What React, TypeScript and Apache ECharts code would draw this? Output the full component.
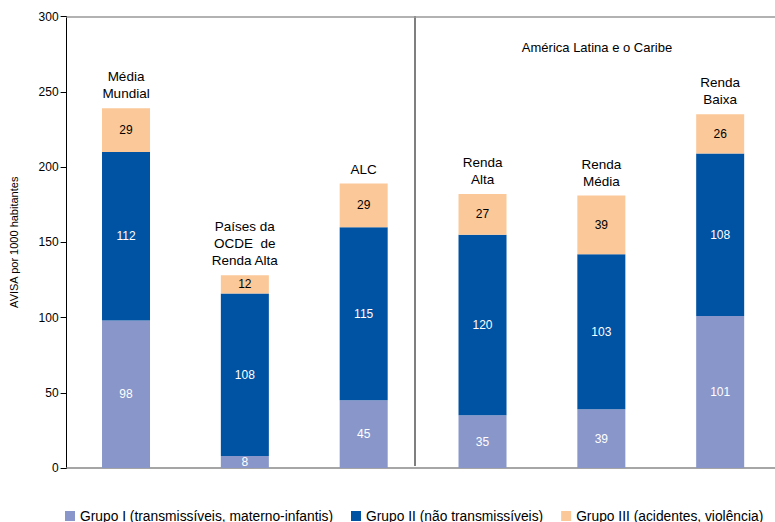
import React, { useEffect, useRef } from "react";
import * as echarts from "echarts";

const categories = ["Média\nMundial", "Países da\nOCDE  de\nRenda Alta", "ALC", "Renda\nAlta", "Renda\nMédia", "Renda\nBaixa"];
const grupoI = [98, 8, 45, 35, 39, 101];
const grupoII = [112, 108, 115, 120, 103, 108];
const grupoIII = [29, 12, 29, 27, 39, 26];
const seriesNames = [
  "Grupo I (transmissíveis, materno-infantis)",
  "Grupo II (não transmissíveis)",
  "Grupo III (acidentes, violência)",
];
const yTicks = [0, 50, 100, 150, 200, 250, 300];
const regionTitle = "América Latina e o Caribe";
const yAxisTitle = "AVISA por 1000 habitantes";

const FONT = "Liberation Sans, Arial, sans-serif";

export default function App() {
  const ref = useRef<HTMLDivElement>(null);
  useEffect(() => {
    if (!ref.current) return;
    const chart = echarts.init(ref.current, undefined, { renderer: "svg" });
    const barWidth = 48;
    const mk = (name: string, data: number[], color: string, labelColor: string) => ({
      name,
      type: "bar",
      stack: "total",
      barWidth,
      data,
      itemStyle: { color },
      label: {
        show: true,
        position: "inside",
        color: labelColor,
        fontSize: 12,
        fontFamily: FONT,
      },
      emphasis: { disabled: true },
    });
    chart.setOption({
      animation: false,
      textStyle: { fontFamily: FONT },
      grid: { left: 66.6, right: 0.4, top: 16.5, bottom: 54, containLabel: false },
      legend: {
        data: seriesNames,
        left: 60,
        top: 504,
        itemWidth: 10,
        itemHeight: 10,
        itemGap: 18,
        icon: "rect",
        textStyle: { fontSize: 13.8, color: "#000", fontFamily: FONT },
        selectedMode: false,
      },
      xAxis: [
        {
          type: "category",
          data: categories,
          axisLine: { show: true, lineStyle: { color: "#888", width: 1.5 } },
          axisTick: { show: false },
          axisLabel: { show: false },
        },
        {
          type: "category",
          position: "top",
          data: categories,
          axisLine: { show: true, lineStyle: { color: "#999", width: 1.5 } },
          axisTick: { show: false },
          axisLabel: { show: false },
        },
      ],
      yAxis: {
        type: "value",
        min: yTicks[0],
        max: yTicks[yTicks.length - 1],
        interval: 50,
        name: yAxisTitle,
        nameLocation: "middle",
        nameGap: 47,
        nameTextStyle: { fontSize: 11, color: "#000", fontFamily: FONT },
        axisLine: { show: true, lineStyle: { color: "#000", width: 1 } },
        axisTick: { show: true, length: 6, lineStyle: { color: "#000" } },
        axisLabel: { fontSize: 12, color: "#000", margin: 8, fontFamily: FONT },
        splitLine: { show: false },
      },
      series: [
        mk(seriesNames[0], grupoI, "#8896C9", "#fff"),
        mk(seriesNames[1], grupoII, "#0052A2", "#fff"),
        mk(seriesNames[2], grupoIII, "#FBC899", "#000"),
        {
          name: "labels",
          type: "bar",
          stack: "total",
          barWidth,
          data: categories.map(() => 0),
          itemStyle: { color: "transparent" },
          label: {
            show: true,
            position: "top",
            distance: 6,
            formatter: (p: any) => categories[p.dataIndex],
            color: "#000",
            fontSize: 13.5,
            lineHeight: 17,
            fontFamily: FONT,
          },
          emphasis: { disabled: true },
        },
      ],
      graphic: [
        {
          type: "line",
          shape: { x1: 415, y1: 16, x2: 415, y2: 466 },
          style: { stroke: "#555", lineWidth: 1.5 },
        },
        {
          type: "text",
          x: 597,
          y: 47,
          style: {
            text: regionTitle,
            fontSize: 13,
            fill: "#000",
            fontFamily: FONT,
            align: "center",
            verticalAlign: "middle",
          },
        },
      ],
    });
    return () => chart.dispose();
  }, []);
  return (
    <div style={{ width: 775, height: 522, position: "absolute", left: 0, top: 0, overflow: "hidden" }}>
      <div ref={ref} style={{ width: 780, height: 522 }} />
    </div>
  );
}
